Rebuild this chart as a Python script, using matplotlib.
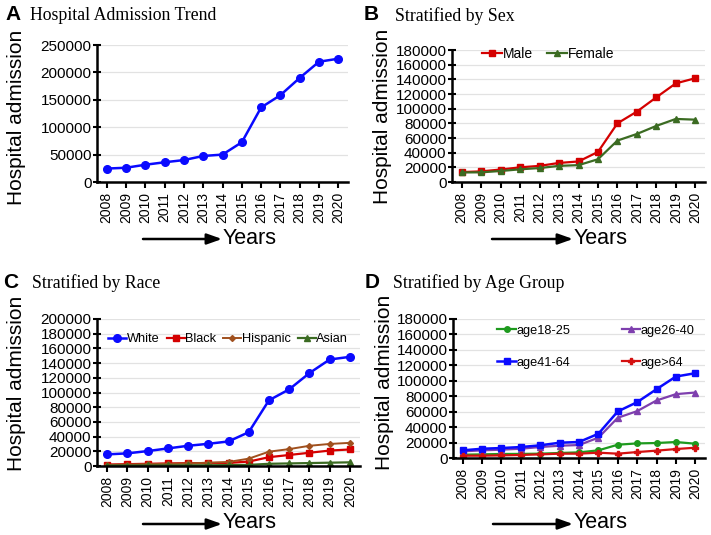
import matplotlib
matplotlib.use("Agg")
import matplotlib.pyplot as plt
import numpy as np

plt.rcParams['font.family'] = ['Liberation Sans', 'DejaVu Sans']

# Data
years = [str(y) for y in range(2008, 2021)]

total = [24500, 26000, 31500, 36000, 40000, 47500, 50000, 72500, 136000, 158500, 190000, 219500, 225000]

male = [13500, 14500, 17000, 20000, 22000, 26000, 28000, 41000, 80000, 96000, 115500, 134500, 141500]
female = [13000, 13200, 15000, 17300, 19000, 22000, 23000, 31000, 56500, 65500, 76500, 86000, 85000]

white = [15800, 17200, 20300, 23900, 27500, 30200, 33400, 46000, 89400, 104300, 126400, 144900, 148500]
black = [2000, 2500, 3000, 3500, 3800, 4000, 4200, 6000, 12000, 15000, 18000, 21000, 22500]
hispanic = [1500, 2000, 2500, 3000, 3500, 4500, 5500, 10000, 19500, 23000, 27500, 30000, 31500]
asian = [500, 600, 700, 800, 900, 1000, 1200, 1500, 3000, 3500, 4000, 4500, 5000]

age18_25 = [4300, 4700, 5200, 5300, 5600, 6500, 7300, 9900, 17200, 18900, 19400, 20700, 18500]
age26_40 = [8600, 9900, 10800, 12000, 14200, 15900, 16800, 26300, 52100, 60700, 74500, 82700, 84800]
age41_64 = [9900, 12000, 12900, 14200, 16400, 19800, 20700, 31400, 60300, 72300, 89100, 105500, 109800]
age_gt64 = [3000, 3000, 3400, 3900, 4700, 5600, 5600, 6900, 5600, 7700, 9500, 11600, 13300]

W, H = 711, 535
fig = plt.figure(figsize=(W / 100, H / 100), dpi=100)


def px(x, y):
    return x / W, 1 - y / H


def make_axes(left, top, right, bottom, ymax, ystep):
    ax = fig.add_axes([left / W, 1 - bottom / H, (right - left) / W, (bottom - top) / H])
    ax.set_xlim(-0.5, 12.5)
    ax.set_ylim(0, ymax)
    ax.set_yticks(np.arange(0, ymax + 1, ystep))
    ax.set_xticks(range(len(years)))
    ax.set_xticklabels(years, rotation=90, fontsize=10)
    ax.tick_params(axis='y', direction='inout', length=6, width=1.5, labelsize=11, pad=1)
    ax.tick_params(axis='x', direction='out', length=4, width=1.5, pad=3)
    for s in ['top', 'right']:
        ax.spines[s].set_visible(False)
    for s in ['left', 'bottom']:
        ax.spines[s].set_linewidth(1.8)
    ax.grid(axis='y', color='#e2e2e2', linewidth=0.9)
    ax.set_axisbelow(True)
    return ax


def decorate(letter, title, lx, ly, tx, ylab_x, ylab_y, ax0, ax1, ay):
    fig.text(*px(lx, ly), letter, fontsize=15, fontweight='bold', va='center', ha='left')
    fig.text(*px(tx, ly + 1), title, fontsize=12.8, family='Liberation Serif', va='center', ha='left')
    fig.text(*px(ylab_x, ylab_y), 'Hospital admission', fontsize=15, rotation=90,
             va='center', ha='center')
    fig.text(*px(ax1 + 1, ay - 1), 'Years', fontsize=15.5, va='center', ha='left')
    fig.patches.append(matplotlib.patches.FancyArrowPatch(
        px(ax0, ay), px(ax1, ay), transform=fig.transFigure,
        arrowstyle='-|>,head_length=9,head_width=3.2', lw=1.8, color='black',
        shrinkA=0, shrinkB=0))


x = np.arange(len(years))

# A
axA = make_axes(97, 45, 348, 182, 250000, 50000)
axA.plot(x, total, color='#0a0aff', lw=1.8, marker='o', ms=5.5)
decorate('A', 'Hospital Admission Trend', 5, 15, 30, 17, 117, 143, 222, 239)

# B
axB = make_axes(452, 50, 705, 182, 180000, 20000)
axB.plot(x, male, color='#d40000', lw=1.6, marker='s', ms=4.5, label='Male')
axB.plot(x, female, color='#3b6b22', lw=1.6, marker='^', ms=5, label='Female')
axB.legend(loc='upper left', bbox_to_anchor=(0.07, 1.12), ncol=2, frameon=False,
           fontsize=10, handlelength=1.45, handletextpad=0.05, columnspacing=1.0)
decorate('B', 'Stratified by Sex', 364, 15, 395, 383, 116, 492, 573, 239)

# C
axC = make_axes(97, 319, 360, 466, 200000, 20000)
axC.plot(x, white, color='#0a0aff', lw=1.8, marker='o', ms=5.5, label='White')
axC.plot(x, black, color='#d40000', lw=1.6, marker='s', ms=5, label='Black')
axC.plot(x, hispanic, color='#a0501e', lw=1.4, marker='D', ms=3, label='Hispanic')
axC.plot(x, asian, color='#3b6b22', lw=1.6, marker='^', ms=5, label='Asian')
axC.legend(loc='upper left', bbox_to_anchor=(0.0, 0.98), ncol=4, frameon=False,
           fontsize=9.2, handlelength=1.4, handletextpad=0.05, columnspacing=0.55)
decorate('C', 'Stratified by Race', 3, 282, 32, 17, 383, 143, 222, 524)

# D
axD = make_axes(453, 319, 705, 458, 180000, 20000)
l1, = axD.plot(x, age18_25, color='#1e9a1e', lw=1.6, marker='o', ms=4, label='age18-25')
l2, = axD.plot(x, age26_40, color='#7e3fae', lw=1.6, marker='^', ms=5, label='age26-40')
l3, = axD.plot(x, age41_64, color='#0a0aff', lw=1.8, marker='s', ms=5, label='age41-64')
l4, = axD.plot(x, age_gt64, color='#d41010', lw=1.6, marker='P', ms=4, label='age>64')
axD.legend([l1, l3, l2, l4], ['age18-25', 'age41-64', 'age26-40', 'age>64'],
           loc='upper left', bbox_to_anchor=(0.13, 1.04), ncol=2, frameon=False,
           fontsize=9.2, handlelength=1.45, handletextpad=0.05, columnspacing=4.0,
           labelspacing=1.55)
decorate('D', 'Stratified by Age Group', 365, 282, 393, 385, 382, 493, 573, 524)

fig.savefig('out.png', dpi=100)
